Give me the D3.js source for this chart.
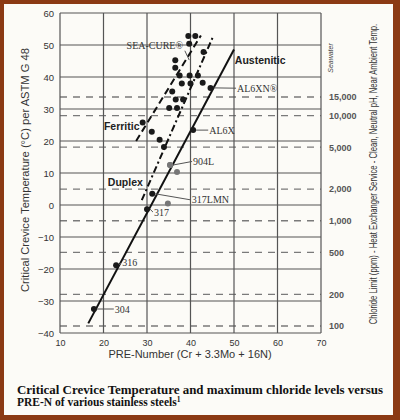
<!DOCTYPE html>
<html>
<head>
<meta charset="utf-8">
<script src="https://cdn.jsdelivr.net/npm/d3@7"></script>
<style>
  html, body { margin: 0; padding: 0; background: #8b3a14; }
  svg { display: block; }
</style>
</head>
<body>
<svg id="chart" width="400" height="420"></svg>
<script>
// axis ticks
const xTicks = [10, 20, 30, 40, 50, 60, 70];
const yTicks = [-40, -30, -20, -10, 0, 10, 20, 30, 40, 50, 60];
const chlorideTicks = [100, 200, 500, 1000, 2000, 5000, 10000, 15000];
const chlorideLabels = ["100", "200", "500", "1,000", "2,000", "5,000", "10,000", "15,000"];

// unlabeled test results (PRE-N, CCT)
const dotPre = [39.5, 41.1, 39.7, 43.0, 36.5, 36.5, 37.5, 39.8, 41.7, 38.0, 40.0, 42.8,
                35.8, 36.6, 38.3, 35.1, 36.9, 29.0, 31.1, 32.9, 33.9];
const dotCct = [52.8, 52.8, 50.4, 47.8, 45.2, 42.9, 40.5, 40.5, 40.5, 38.0, 38.0, 38.2,
                35.5, 33.0, 33.0, 30.3, 30.3, 25.8, 22.9, 20.4, 18.1];
const grayPre = [35.3, 36.9, 34.8];
const grayCct = [12.5, 10.3, 0.5];

// named grades
const gradeNames = ["304", "316", "317", "317LMN", "904L", "AL6X", "AL6XN\u00ae"];
const gradePre = [17.8, 22.9, 30.0, 31.2, 35.3, 40.6, 44.6];
const gradeCct = [-32.5, -18.8, -1.3, 3.5, 12.5, 23.4, 36.6];

// trend lines
const austPre = [16.5, 50.0], austCct = [-37, 48.6];
const ferrPre = [27.5, 42.4], ferrCct = [20, 53];
const duplPre = [28.8, 45.3], duplCct = [1.5, 53];

const svg = d3.select("#chart");
svg.append("rect").attr("x", 4).attr("y", 4).attr("width", 389).attr("height", 411)
  .attr("fill", "#fcfbf7");

const x = d3.scaleLinear().domain([10, 70]).range([60, 321]);
const y = d3.scaleLinear().domain([-40, 60]).range([333, 13]);
const yR = d3.scaleLog().domain([100, 15000]).range([326, 97]);

const grid = svg.append("g");
// chloride dashed lines
grid.selectAll("line.cl").data(chlorideTicks).enter().append("line")
  .attr("x1", x(10)).attr("x2", x(70))
  .attr("y1", d => yR(d)).attr("y2", d => yR(d))
  .attr("stroke", "#7a7a7a").attr("stroke-width", 1.3).attr("stroke-dasharray", "7,6");
// solid grid
grid.selectAll("line.h").data(yTicks).enter().append("line")
  .attr("x1", x(10)).attr("x2", x(70))
  .attr("y1", d => y(d)).attr("y2", d => y(d))
  .attr("stroke", "#555").attr("stroke-width", 1.2);
grid.selectAll("line.v").data(xTicks).enter().append("line")
  .attr("y1", y(-40)).attr("y2", y(60))
  .attr("x1", d => x(d)).attr("x2", d => x(d))
  .attr("stroke", "#555").attr("stroke-width", 1.2);

// axes labels
const xAxis = d3.axisBottom(x).tickValues(xTicks).tickSize(0).tickPadding(7);
svg.append("g").attr("transform", "translate(0," + y(-40) + ")").call(xAxis)
  .call(g => g.select(".domain").remove())
  .selectAll("text").attr("font-family", "Liberation Sans, Arial, sans-serif")
  .attr("font-size", 9).attr("fill", "#333");

const yAxis = d3.axisLeft(y).tickValues(yTicks).tickSize(0).tickPadding(6);
svg.append("g").attr("transform", "translate(" + x(10) + ",0)").call(yAxis)
  .call(g => g.select(".domain").remove())
  .selectAll("text").attr("font-family", "Liberation Sans, Arial, sans-serif")
  .attr("font-size", 9.5).attr("fill", "#333");

const rAxis = d3.axisRight(yR).tickValues(chlorideTicks).tickSize(0).tickPadding(8)
  .tickFormat((d, i) => chlorideLabels[i]);
svg.append("g").attr("transform", "translate(" + x(70) + ",0)").call(rAxis)
  .call(g => g.select(".domain").remove())
  .selectAll("text").attr("font-family", "Liberation Sans, Arial, sans-serif")
  .attr("font-size", 9).attr("font-weight", "bold").attr("fill", "#555");

// titles
svg.append("text").attr("x", 190).attr("y", 358).attr("text-anchor", "middle")
  .attr("font-family", "Liberation Sans, Arial, sans-serif").attr("font-size", 11)
  .attr("fill", "#333").text("PRE-Number (Cr + 3.3Mo + 16N)");

svg.append("text").attr("transform", "translate(29,170) rotate(-90)")
  .attr("text-anchor", "middle").attr("font-family", "Liberation Sans, Arial, sans-serif")
  .attr("font-size", 10).attr("fill", "#333")
  .attr("textLength", 244).attr("lengthAdjust", "spacingAndGlyphs")
  .text("Critical Crevice Temperature (\u00b0C) per ASTM G 48");

svg.append("text").attr("transform", "translate(377,174) rotate(-90) scale(0.77,1)")
  .attr("text-anchor", "middle").attr("font-family", "Liberation Sans, Arial, sans-serif")
  .attr("font-size", 10).attr("fill", "#333")
  .text("Chloride Limit (ppm) - Heat Exchanger Service - Clean, Neutral pH, Near Ambient Temp.");

svg.append("text").attr("transform", "translate(333,58) rotate(-90)")
  .attr("text-anchor", "middle").attr("font-family", "Liberation Sans, Arial, sans-serif")
  .attr("font-size", 7).attr("font-style", "italic").attr("fill", "#444")
  .text("Seawater");

// trend lines
const line = d3.line().x(d => x(d[0])).y(d => y(d[1]));
svg.append("path").datum(d3.zip(austPre, austCct)).attr("d", line)
  .attr("stroke", "#111").attr("stroke-width", 2).attr("fill", "none");
svg.append("path").datum(d3.zip(ferrPre, ferrCct)).attr("d", line)
  .attr("stroke", "#111").attr("stroke-width", 2).attr("fill", "none")
  .attr("stroke-dasharray", "7,4");
svg.append("path").datum(d3.zip(duplPre, duplCct)).attr("d", line)
  .attr("stroke", "#111").attr("stroke-width", 2).attr("fill", "none")
  .attr("stroke-dasharray", "7,3,2,3");

// leader lines and grade labels (offsets in data units)
const notes = [
  { i: 0, tx: 22.6, ty: -32.5 },
  { i: 1, tx: 24.3, ty: -18.0 },
  { i: 2, tx: 31.6, ty: -2.2 },
  { i: 3, tx: 40.3, ty: 1.6 },
  { i: 4, tx: 40.6, ty: 13.6 },
  { i: 5, tx: 44.3, ty: 23.4 },
  { i: 6, tx: 50.7, ty: 36.5 }
];
svg.selectAll("line.lead").data(notes).enter().append("line")
  .attr("x1", d => x(gradePre[d.i]) + 3).attr("y1", d => y(gradeCct[d.i]))
  .attr("x2", d => x(d.tx) - 1).attr("y2", d => y(d.ty))
  .attr("stroke", "#555").attr("stroke-width", 1);
svg.selectAll("text.grade").data(notes).enter().append("text")
  .attr("x", d => x(d.tx)).attr("y", d => y(d.ty) + 3.5)
  .attr("font-family", "Liberation Serif, Times New Roman, serif").attr("font-size", 10)
  .attr("fill", "#333").text(d => gradeNames[d.i]);

// SEA-CURE
svg.append("line").attr("x1", x(38.7)).attr("y1", y(48.2)).attr("x2", x(39.7)).attr("y2", y(45.3))
  .attr("stroke", "#555").attr("stroke-width", 1);
svg.append("text").attr("x", x(31.8)).attr("y", y(49.7) + 3.5).attr("text-anchor", "middle")
  .attr("font-family", "Liberation Serif, Times New Roman, serif").attr("font-size", 10)
  .attr("fill", "#333").text("SEA-CURE\u00ae");

// family labels
const fam = [["Austenitic", 50.2, 45.2], ["Ferritic", 20.1, 24.4], ["Duplex", 21.0, 6.9]];
svg.selectAll("text.fam").data(fam).enter().append("text")
  .attr("x", d => x(d[1])).attr("y", d => y(d[2]) + 3.5)
  .attr("font-family", "Liberation Sans, Arial, sans-serif").attr("font-size", 10.5)
  .attr("font-weight", "bold").attr("fill", "#222").text(d => d[0]);

// dots
svg.selectAll("circle.dot").data(d3.zip(dotPre, dotCct)).enter().append("circle")
  .attr("cx", d => x(d[0])).attr("cy", d => y(d[1])).attr("r", 3).attr("fill", "#1a1a1a");
svg.selectAll("circle.gray").data(d3.zip(grayPre, grayCct)).enter().append("circle")
  .attr("cx", d => x(d[0])).attr("cy", d => y(d[1])).attr("r", 3).attr("fill", "#777");
svg.selectAll("circle.grade").data(d3.zip(gradePre, gradeCct)).enter().append("circle")
  .attr("cx", d => x(d[0])).attr("cy", d => y(d[1])).attr("r", 3)
  .attr("fill", (d, i) => gradeNames[i] === "904L" ? "#777" : "#1a1a1a");

// caption
const cap = svg.append("g").attr("font-family", "Liberation Serif, Times New Roman, serif")
  .attr("font-size", 11.5).attr("font-weight", "bold").attr("fill", "#111");
cap.append("text").attr("x", 17).attr("y", 394)
  .attr("textLength", 366).attr("lengthAdjust", "spacingAndGlyphs")
  .text("Critical Crevice Temperature and maximum chloride levels versus");
const cap2 = cap.append("text").attr("x", 17).attr("y", 406);
cap2.append("tspan").text("PRE-N of various stainless steels");
cap2.append("tspan").attr("dy", -4).attr("font-size", 7.5).text("1");
</script>
</body>
</html>
